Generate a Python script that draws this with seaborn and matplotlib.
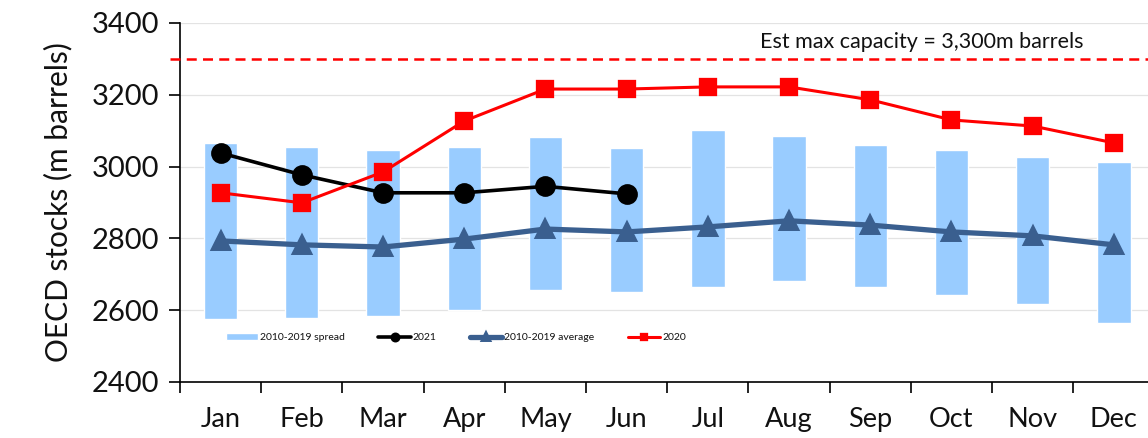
import numpy as np
import seaborn as sns
import matplotlib.pyplot as plt
from matplotlib.ticker import FixedLocator

months = ["Jan", "Feb", "Mar", "Apr", "May", "Jun",
          "Jul", "Aug", "Sep", "Oct", "Nov", "Dec"]

# 2010-2019 range (min / max), m barrels
spread_low = np.array([2576, 2578, 2584, 2600, 2656, 2651,
                       2664, 2681, 2664, 2642, 2617, 2565])
spread_high = np.array([3066, 3055, 3046, 3055, 3082, 3052,
                        3102, 3085, 3060, 3046, 3026, 3012])
avg_2010_2019 = [2793, 2782, 2776, 2798, 2826, 2818,
                 2832, 2849, 2837, 2818, 2807, 2782]
stocks_2020 = [2927, 2899, 2985, 3127, 3216, 3216,
               3222, 3222, 3186, 3130, 3113, 3066]
stocks_2021 = [3038, 2977, 2927, 2927, 2945, 2924]
max_capacity = 3300

sns.set_style("white")
plt.rcParams['font.family'] = ['Lato', 'DejaVu Sans']
plt.rcParams['text.color'] = '#111111'
plt.rcParams['axes.labelcolor'] = '#111111'
plt.rcParams['xtick.labelcolor'] = '#111111'
plt.rcParams['ytick.labelcolor'] = '#111111'

fig = plt.figure(figsize=(11.48, 4.38), dpi=100)
ax = fig.add_axes([0.1568, 0.1279, 0.8432, 0.8196])

sns.barplot(x=months, y=spread_high - spread_low, bottom=spread_low,
            order=months, color="#99CCFF", saturation=1, width=0.41,
            label="2010-2019 spread", ax=ax, zorder=2)

sns.pointplot(x=months[:6], y=stocks_2021, order=months, color="black",
              marker="o", markersize=13, linewidth=2.6, errorbar=None,
              label="2021", ax=ax, zorder=4)
sns.pointplot(x=months, y=avg_2010_2019, order=months, color="#3A5F8F",
              marker="^", markersize=12, linewidth=3.8, errorbar=None,
              label="2010-2019 average", ax=ax, zorder=3)
sns.pointplot(x=months, y=stocks_2020, order=months, color="#FF0000",
              marker="s", markersize=11, linewidth=2.2, errorbar=None,
              label="2020", ax=ax, zorder=5)

# max capacity line, sticking slightly left of the axis like the original
ax.plot([-0.62, 11.6], [max_capacity, max_capacity], color="#FF0000",
        linestyle=(0, (4, 2.5)), linewidth=1.8, clip_on=False, zorder=3)
ax.text(8.63, 3347, "Est max capacity = 3,300m barrels",
        ha="center", va="center", fontsize=15.5)

ax.set_xlim(-0.5, 11.42)
ax.set_ylim(2400, 3400)
ax.set_yticks(range(2400, 3401, 200))
ax.yaxis.grid(True, color="#e3e3e3", linewidth=0.9, zorder=0)
ax.set_axisbelow(True)

ax.set_xticks(range(12))
ax.set_xticklabels(months)
ax.xaxis.set_minor_locator(FixedLocator(np.arange(-0.5, 12, 1)))
ax.tick_params(axis="x", which="major", length=0, pad=18, labelsize=19.5)
ax.tick_params(axis="x", which="minor", length=8, width=1.2, color="black",
               direction="out", bottom=True)
ax.tick_params(axis="y", length=8, width=1.2, color="black", direction="out",
               left=True, pad=7, labelsize=21)

for side in ["top", "right"]:
    ax.spines[side].set_visible(False)
for side in ["left", "bottom"]:
    ax.spines[side].set_color("black")
    ax.spines[side].set_linewidth(1.2)

ax.set_xlabel("")
ax.set_ylabel("OECD stocks (m barrels)", fontsize=21.5, labelpad=14)

handles, labels = ax.get_legend_handles_labels()
order = [labels.index(n) for n in
         ["2010-2019 spread", "2021", "2010-2019 average", "2020"]]
ax.legend([handles[i] for i in order], [labels[i] for i in order],
          loc="center", bbox_to_anchor=(0.285, 0.123), ncol=4, frameon=False,
          fontsize=7.5, handlelength=3.1, handletextpad=0.2, columnspacing=3.2,
          markerscale=0.4)

fig.savefig("out.png", dpi=100)
